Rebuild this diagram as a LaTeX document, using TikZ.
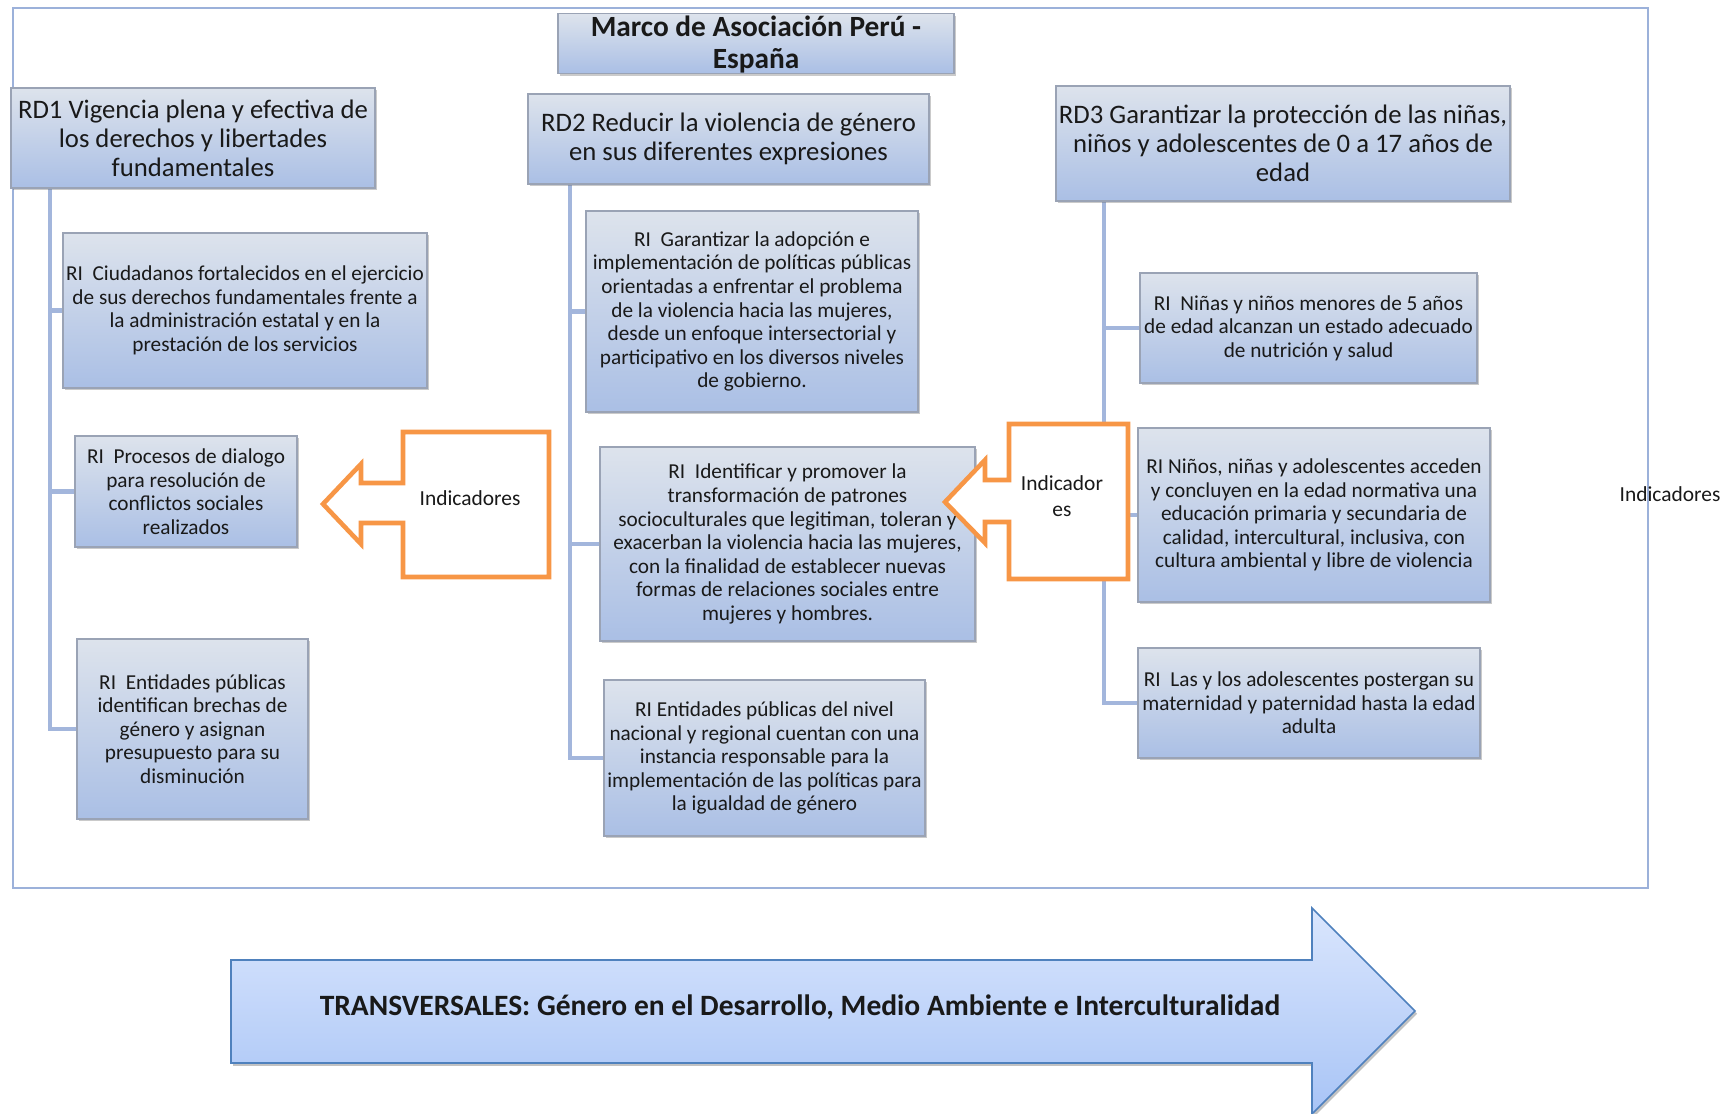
\documentclass[tikz,border=0pt]{standalone}
\usepackage{fontspec}
\setmainfont{Carlito}
\usetikzlibrary{shadows,backgrounds}
\definecolor{boxtop}{HTML}{DDE3EC}
\definecolor{boxbot}{HTML}{AABFE5}
\definecolor{boxline}{HTML}{9AA3B5}
\definecolor{connc}{HTML}{A3B6DC}
\definecolor{framec}{HTML}{9CB1DA}
\definecolor{orangec}{HTML}{F79646}
\definecolor{arrtop}{HTML}{DAE6FD}
\definecolor{arrbot}{HTML}{A8C4F6}
\definecolor{arrline}{HTML}{4F81BD}
\begin{document}
\begin{tikzpicture}[x=0.02cm,y=-0.02cm,
 box/.style={draw=boxline, line width=0.6pt, top color=boxtop, bottom color=boxbot,
   drop shadow={shadow xshift=1.3pt, shadow yshift=-1.3pt, fill=black!60, opacity=0.35},
   inner sep=0pt, outer sep=0pt, align=center, text=black!90},
 wh/.style 2 args={minimum width=#1*0.02cm, minimum height=#2*0.02cm},
 ritext/.style={font=\fontsize{12.1}{13.4}\selectfont},
 rdtext/.style={font=\fontsize{15.2}{16.6}\selectfont},
 conn/.style={draw=connc, line width=2.8pt},
 callout/.style={draw=orangec, line width=2.6pt, fill=white, line join=miter},
 lbl/.style={font=\fontsize{12.2}{15.2}\selectfont, align=center, inner sep=0pt, text=black!90}]

\useasboundingbox (0,0) rectangle (1732,1113);
\node[draw=framec, line width=1.1pt, inner sep=0pt, wh={1635}{880}] (frame) at (830.5,448) {};

% title
\node[box, wh={396}{59}, font=\fontsize{16.7}{18.3}\selectfont\bfseries] (title) at (756,43.5)
  {\rule{0pt}{13pt}Marco de Asociación Perú -\\España};

% RD headers
\node[box, rdtext, wh={364}{100}] (rd1) at (193,138)
  {RD1 Vigencia plena y efectiva de\\los derechos y libertades\\fundamentales};
\node[box, rdtext, wh={401}{90}] (rd2) at (728.5,139)
  {RD2 Reducir la violencia de género\\en sus diferentes expresiones};
\node[box, rdtext, wh={454}{115}] (rd3) at (1283,143.5)
  {RD3 Garantizar la protección de las niñas,\\niños y adolescentes de 0 a 17 años de\\edad};

% RD1 children
\node[box, ritext, wh={364}{155}] (ri11) at (245,310.5)
  {RI\ \ Ciudadanos fortalecidos en el ejercicio\\de sus derechos fundamentales frente a\\la administración estatal y en la\\prestación de los servicios};
\node[box, ritext, wh={222}{111}] (ri12) at (186,491.5)
  {RI\ \ Procesos de dialogo\\para resolución de\\conflictos sociales\\realizados};
\node[box, ritext, wh={231}{180}] (ri13) at (192.5,729)
  {RI\ \ Entidades públicas\\identifican brechas de\\género y asignan\\presupuesto para su\\disminución};

% RD2 children
\node[box, ritext, wh={332}{201}] (ri21) at (752,311.5)
  {RI\ \ Garantizar la adopción e\\implementación de políticas públicas\\orientadas a enfrentar el problema\\de la violencia hacia las mujeres,\\desde un enfoque intersectorial y\\participativo en los diversos niveles\\de gobierno.};
\node[box, ritext, wh={375}{194}] (ri22) at (787.5,544)
  {RI\ \ Identificar y promover la\\transformación de patrones\\socioculturales que legitiman, toleran y\\exacerban la violencia hacia las mujeres,\\con la finalidad de establecer nuevas\\formas de relaciones sociales entre\\mujeres y hombres.};
\node[box, ritext, wh={321}{156}] (ri23) at (764.5,758)
  {RI Entidades públicas del nivel\\nacional y regional cuentan con una\\instancia responsable para la\\implementación de las políticas para\\la igualdad de género};

% RD3 children
\node[box, ritext, wh={337}{110}] (ri31) at (1308.5,328)
  {RI\ \ Niñas y niños menores de 5 años\\de edad alcanzan un estado adecuado\\de nutrición y salud};
\node[box, ritext, wh={352}{174}] (ri32) at (1314,515)
  {RI Niños, niñas y adolescentes acceden\\y concluyen en la edad normativa una\\educación primaria y secundaria de\\calidad, intercultural, inclusiva, con\\cultura ambiental y libre de violencia};
\node[box, ritext, wh={342}{110}] (ri33) at (1309,703)
  {RI\ \ Las y los adolescentes postergan su\\maternidad y paternidad hasta la edad\\adulta};

% connectors
\coordinate (t1) at (50,188);
\coordinate (t2) at (570,184);
\coordinate (t3) at (1104,201);
\begin{pgfonlayer}{background}
  \draw[conn] (t1 |- rd1.south) |- (ri13.west);
  \draw[conn] (t1 |- ri11.west) -- (ri11.west);
  \draw[conn] (t1 |- ri12.west) -- (ri12.west);
  \draw[conn] (t2 |- rd2.south) |- (ri23.west);
  \draw[conn] (t2 |- ri21.west) -- (ri21.west);
  \draw[conn] (t2 |- ri22.west) -- (ri22.west);
  \draw[conn] (t3 |- rd3.south) |- (ri33.west);
  \draw[conn] (t3 |- ri31.west) -- (ri31.west);
  \draw[conn] (t3 |- ri32.west) -- (ri32.west);
\end{pgfonlayer}

% orange callouts
\draw[callout] (549,432) -- (403,432) -- (403,483) -- (361,483) -- (361,464) -- (323,504)
  -- (361,544) -- (361,523) -- (403,523) -- (403,577) -- (549,577) -- cycle;
\node[lbl] (ind1) at (470,498) {Indicadores};
\draw[callout] (1128,424) -- (1009,424) -- (1009,480) -- (985,480) -- (985,460) -- (945,502)
  -- (985,543) -- (985,522) -- (1009,522) -- (1009,579) -- (1128,579) -- cycle;
\node[lbl] (ind2) at (1062,496) {Indicador\\es};
\node[lbl] (ind3) at (1670,494) {Indicadores};

% bottom arrow
\draw[draw=arrline, line width=0.9pt, top color=arrtop, bottom color=arrbot, line join=miter,
  drop shadow={shadow xshift=1.2pt, shadow yshift=-1.6pt, fill=black!60, opacity=0.4}]
  (231,960) -- (1312,960) -- (1312,908) -- (1415,1011) -- (1312,1114) -- (1312,1063) -- (231,1063) -- cycle;
\node[font=\fontsize{16.8}{18}\selectfont\bfseries, text=black!90, inner sep=0pt] (trans) at (800,1007)
  {TRANSVERSALES: Género en el Desarrollo, Medio Ambiente e Interculturalidad};
\end{tikzpicture}
\end{document}
